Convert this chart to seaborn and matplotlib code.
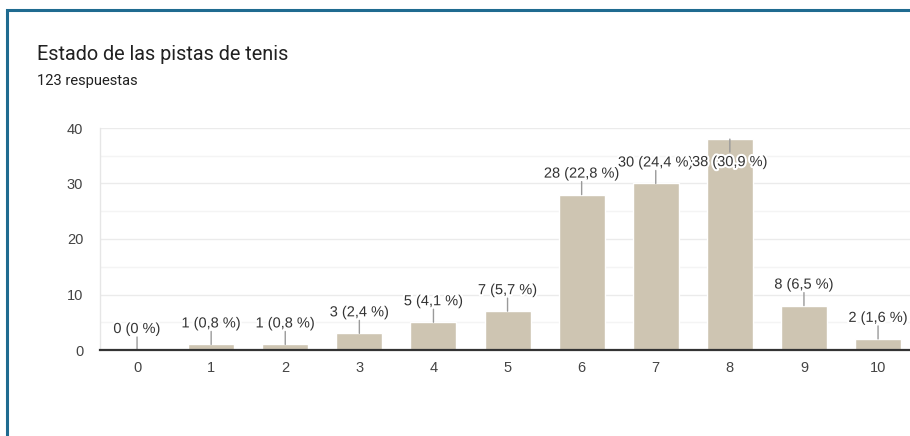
import matplotlib
matplotlib.use("Agg")
import matplotlib.pyplot as plt
import matplotlib.patheffects as pe
from matplotlib.patches import Rectangle
from matplotlib.ticker import MultipleLocator
import pandas as pd
import seaborn as sns

# Survey results: rating of the tennis courts (0-10)
categories = ["0", "1", "2", "3", "4", "5", "6", "7", "8", "9", "10"]
counts = [0, 1, 1, 3, 5, 7, 28, 30, 38, 8, 2]
percents = [0, 0.8, 0.8, 2.4, 4.1, 5.7, 22.8, 24.4, 30.9, 6.5, 1.6]
y_ticks = [0, 10, 20, 30, 40]
title = "Estado de las pistas de tenis"
subtitle = "123 respuestas"

BAR_COLOR = "#cec5b2"
TEXT_DARK = "#333333"
TICK_COLOR = "#444444"
CHART_FONT = ["Liberation Sans", "DejaVu Sans"]

sns.set_theme(style="white")
plt.rcParams["font.family"] = ["Roboto", "DejaVu Sans"]

W, H = 910, 436
fig = plt.figure(figsize=(W / 100, H / 100), dpi=100)
fig.patch.set_facecolor("white")

# Card border (top and left edges visible)
fig.add_artist(Rectangle((7 / W, -0.1), 1.2, (H - 10) / H + 0.1,
                         transform=fig.transFigure, fill=False,
                         edgecolor="#1f6b90", linewidth=2.2))

fig.text(37 / W, 1 - 54 / H, title, fontsize=14.3, color="#212121",
         va="center", ha="left")
fig.text(37 / W, 1 - 81 / H, subtitle, fontsize=10.6, color="#212121",
         va="center", ha="left")

# Plot area: x from -0.5 at 100 px, y from 0 at 350 px to 40 at 128 px
step = 74.1
left_px = 100
right_px = left_px + step * len(categories)
ax = fig.add_axes([left_px / W, (H - 350) / H,
                   (right_px - left_px) / W, (350 - 128) / H])

df = pd.DataFrame({"valor": categories, "respuestas": counts})
sns.barplot(data=df, x="valor", y="respuestas", order=categories,
            color=BAR_COLOR, width=0.62, saturation=1, ax=ax, zorder=2)

ax.set_xlim(-0.5, len(categories) - 0.5)
ax.set_ylim(0, 40)
ax.set_yticks(y_ticks)
ax.yaxis.set_minor_locator(MultipleLocator(5))
ax.grid(axis="y", which="major", color="#ebebeb", linewidth=1, zorder=0)
ax.grid(axis="y", which="minor", color="#f4f4f4", linewidth=1, zorder=0)
ax.set_axisbelow(True)
ax.set_xlabel("")
ax.set_ylabel("")

for side in ["top", "right"]:
    ax.spines[side].set_visible(False)
ax.spines["left"].set_color("#e6e6e6")
ax.spines["left"].set_linewidth(1)
ax.spines["bottom"].set_color("#333333")
ax.spines["bottom"].set_linewidth(1.6)
ax.spines["bottom"].set_zorder(5)

ax.tick_params(axis="both", length=0, labelsize=10.5, labelcolor=TICK_COLOR)
ax.tick_params(axis="y", pad=12)
ax.tick_params(axis="x", pad=8)
for lbl in ax.get_xticklabels() + ax.get_yticklabels():
    lbl.set_family(CHART_FONT)

px = 0.72  # points per pixel at 100 dpi
halo = [pe.withStroke(linewidth=3, foreground="white")]
for i, (c, p) in enumerate(zip(counts, percents)):
    pct = f"{p:g}".replace(".", ",")
    label = f"{c} ({pct} %)"
    below = c > 34
    line_len = -13 * px if below else 13 * px
    text_off = -23 * px if below else 21 * px
    ax.annotate("", xy=(i, c), xytext=(0, line_len), textcoords="offset points",
                arrowprops=dict(arrowstyle="-", color="#9a9a9a", lw=1,
                                shrinkA=0, shrinkB=0), zorder=3,
                annotation_clip=False)
    ax.annotate(label, xy=(i, c), xytext=(0, text_off), textcoords="offset points",
                ha="center", va="center", fontsize=10.5, color=TEXT_DARK,
                family=CHART_FONT, path_effects=halo, zorder=4,
                annotation_clip=False)

fig.savefig("out.png", dpi=100)
